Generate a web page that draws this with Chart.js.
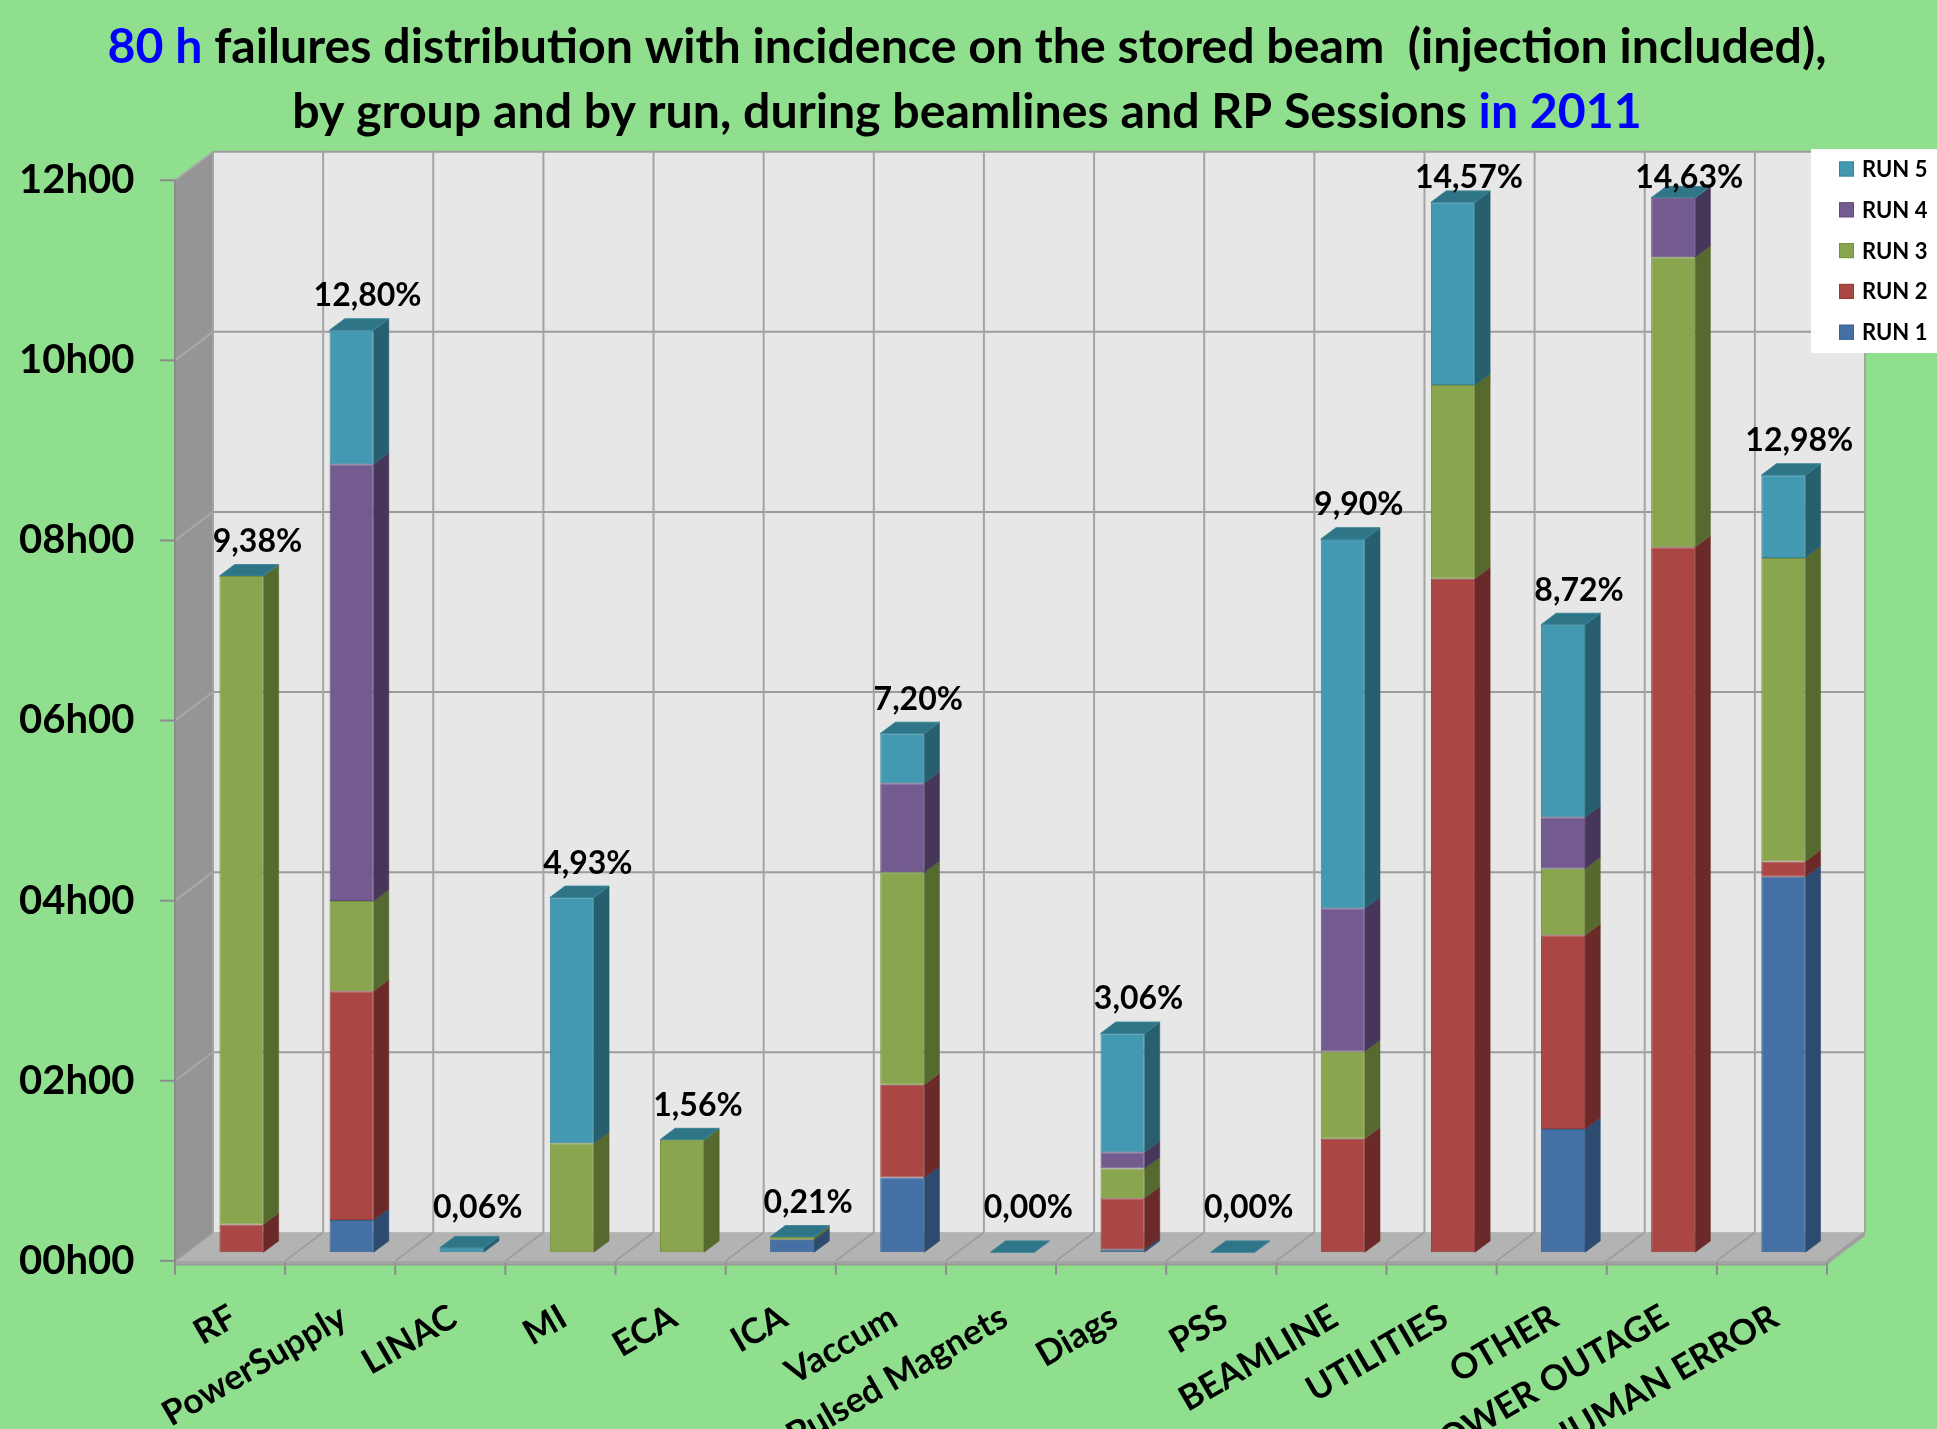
<!DOCTYPE html>
<html>
<head>
<meta charset="utf-8">
<script src="https://cdn.jsdelivr.net/npm/chart.js@4.4.1/dist/chart.umd.min.js"></script>
<style>
  html, body { margin: 0; padding: 0; background: #8fdf8f; overflow: hidden; }
  canvas { display: block; }
</style>
</head>
<body>
<canvas id="chart" width="1937" height="1429" style="width:1937px;height:1429px"></canvas>
<script>
// ---- data (hours of beam lost per group, split by run) ----
const categories = ['RF', 'PowerSupply', 'LINAC', 'MI', 'ECA', 'ICA', 'Vaccum', 'Pulsed Magnets',
                    'Diags', 'PSS', 'BEAMLINE', 'UTILITIES', 'OTHER', 'POWER OUTAGE', 'HUMAN ERROR'];
const run1 = [0,    0.36, 0,    0,    0,    0.14, 0.83, 0, 0.03, 0, 0,    0,    1.37, 0,    4.17];
const run2 = [0.31, 2.54, 0,    0,    0,    0,    1.03, 0, 0.57, 0, 1.26, 7.48, 2.15, 7.83, 0.17];
const run3 = [7.20, 1.00, 0,    1.21, 1.25, 0.03, 2.36, 0, 0.33, 0, 0.97, 2.15, 0.74, 3.22, 3.37];
const run4 = [0,    4.85, 0,    0,    0,    0,    0.99, 0, 0.18, 0, 1.59, 0,    0.57, 0.66, 0];
const run5 = [0,    1.49, 0.05, 2.73, 0,    0,    0.55, 0, 1.32, 0, 4.10, 2.03, 2.14, 0,    0.92];
const seriesNames = ['RUN 1', 'RUN 2', 'RUN 3', 'RUN 4', 'RUN 5'];
const shareLabels = ['9,38%', '12,80%', '0,06%', '4,93%', '1,56%', '0,21%', '7,20%', '0,00%',
                     '3,06%', '0,00%', '9,90%', '14,57%', '8,72%', '14,63%', '12,98%'];
const yTickLabels = ['00h00', '02h00', '04h00', '06h00', '08h00', '10h00', '12h00'];
const titleLine1 = [['80 h', '#0000ff'], [' failures distribution with incidence on the stored beam  (injection included),', '#000000']];
const titleLine2 = [['by group and by run, during beamlines and RP Sessions ', '#000000'], ['in 2011', '#0000ff']];

// ---- styling ----
const runs = [run1, run2, run3, run4, run5];
const frontColors = ['#4470a6', '#aa4644', '#89a54e', '#735a8f', '#4299b1'];
const edgeColors  = ['#3a6190', '#923b39', '#768e42', '#624c7b', '#378599'];
const sideColors  = ['#2c4b6f', '#6b2a29', '#56692f', '#46375a', '#275f6e'];
const capColor = '#2f7588';
const FONT = 'Lato, "DejaVu Sans", sans-serif';
const BG = '#8fdf8f';

// depth of the floor (vector from the front edge to the back wall) and the
// slice of that depth the columns occupy
const DEPTH_X = 38, DEPTH_Y = -28.5;
const BAR_FRONT = 0.3, BAR_BACK = 0.7;
const shift = d => ({ x: (d - BAR_FRONT) * DEPTH_X, y: (d - BAR_FRONT) * DEPTH_Y });

function poly(ctx, pts, fill, stroke, lw) {
  ctx.beginPath();
  ctx.moveTo(pts[0][0], pts[0][1]);
  for (let i = 1; i < pts.length; i++) ctx.lineTo(pts[i][0], pts[i][1]);
  ctx.closePath();
  if (fill) { ctx.fillStyle = fill; ctx.fill(); }
  if (stroke) { ctx.strokeStyle = stroke; ctx.lineWidth = lw || 1; ctx.stroke(); }
}
function seg(ctx, x1, y1, x2, y2, color, lw) {
  ctx.beginPath(); ctx.moveTo(x1, y1); ctx.lineTo(x2, y2);
  ctx.strokeStyle = color; ctx.lineWidth = lw; ctx.stroke();
}
const totals = categories.map((_, i) => runs.reduce((s, r) => s + r[i], 0));

const scene3d = {
  id: 'scene3d',
  beforeDraw(chart) {
    const { ctx, chartArea: a, scales: { x: xs, y: ys } } = chart;
    ctx.save();
    ctx.fillStyle = BG;
    ctx.fillRect(0, 0, chart.width, chart.height);
    const f = shift(0), b = shift(1);
    const y0 = ys.getPixelForValue(0), yTop = ys.getPixelForValue(12);
    // back wall
    ctx.fillStyle = '#e7e7e7';
    ctx.fillRect(a.left + b.x, yTop + b.y, a.right - a.left, y0 - yTop);
    // left side wall
    poly(ctx, [[a.left + f.x, yTop + f.y], [a.left + b.x, yTop + b.y], [a.left + b.x, y0 + b.y], [a.left + f.x, y0 + f.y]], '#959595');
    // floor slab
    poly(ctx, [[a.left + f.x, y0 + f.y], [a.right + f.x, y0 + f.y], [a.right + f.x, y0 + f.y + 4], [a.left + f.x, y0 + f.y + 4]], '#a3a3a3');
    poly(ctx, [[a.right + f.x, y0 + f.y], [a.right + b.x, y0 + b.y], [a.right + b.x, y0 + b.y + 4], [a.right + f.x, y0 + f.y + 4]], '#a3a3a3');
    poly(ctx, [[a.left + f.x, y0 + f.y], [a.left + b.x, y0 + b.y], [a.right + b.x, y0 + b.y], [a.right + f.x, y0 + f.y]], '#b3b3b3');
    // value gridlines on back and side walls, with axis ticks
    ys.ticks.forEach(t => {
      const py = ys.getPixelForValue(t.value);
      if (t.value > 0) {
        seg(ctx, a.left + b.x, py + b.y, a.right + b.x, py + b.y, '#9c9c9c', 2);
        seg(ctx, a.left + f.x, py + f.y, a.left + b.x, py + b.y, '#a9a9a9', 2);
      }
      seg(ctx, a.left + f.x - 15, py + f.y, a.left + f.x, py + f.y, '#8c8c8c', 2);
    });
    // category dividers on back wall and floor, with axis ticks
    const cw = xs.getPixelForValue(1) - xs.getPixelForValue(0);
    const x0 = xs.getPixelForValue(0) - cw / 2;
    for (let k = 0; k <= categories.length; k++) {
      const bx = x0 + k * cw;
      seg(ctx, bx + b.x, yTop + b.y, bx + b.x, y0 + b.y, '#a4a4a4', 2);
      seg(ctx, bx + f.x, y0 + f.y, bx + b.x, y0 + b.y, '#9a9a9a', 1.5);
      seg(ctx, bx + f.x, y0 + f.y + 2, bx + f.x, y0 + f.y + 14, '#8c8c8c', 2);
    }
    // outer edges
    seg(ctx, a.left + f.x, yTop + f.y, a.left + f.x, y0 + f.y + 4, '#8c8c8c', 2);
    seg(ctx, a.left + f.x, y0 + f.y + 4, a.right + f.x, y0 + f.y + 4, '#9a9a9a', 1.5);
    ctx.restore();
  },
  beforeDatasetsDraw(chart) {
    const { ctx, scales: { y: ys } } = chart;
    const metas = chart.data.datasets.map((_, di) => chart.getDatasetMeta(di));
    const sx = (BAR_BACK - BAR_FRONT) * DEPTH_X, sy = (BAR_BACK - BAR_FRONT) * DEPTH_Y;
    ctx.save();
    categories.forEach((_, i) => {
      const ref = metas[0].data[i].getProps(['x', 'width'], true);
      const left = ref.x - ref.width / 2, right = ref.x + ref.width / 2;
      metas.forEach((m, di) => {
        const el = m.data[i].getProps(['y', 'base'], true);
        const top = Math.min(el.y, el.base), bot = Math.max(el.y, el.base);
        if (bot - top < 0.5) return;
        poly(ctx, [[right, bot], [right, top], [right + sx, top + sy], [right + sx, bot + sy]], sideColors[di], sideColors[di], 0.5);
      });
      const yt = ys.getPixelForValue(totals[i]);
      poly(ctx, [[left, yt], [right, yt], [right + sx, yt + sy], [left + sx, yt + sy]], capColor, '#3d8497', 1);
    });
    ctx.restore();
  },
  afterDatasetsDraw(chart) {
    const { ctx, scales: { y: ys } } = chart;
    const meta = chart.getDatasetMeta(0);
    const y0 = ys.getPixelForValue(0);
    ctx.save();
    ctx.font = 'bold 32px ' + FONT;
    ctx.fillStyle = '#000';
    ctx.textAlign = 'center';
    ctx.textBaseline = 'alphabetic';
    categories.forEach((_, i) => {
      const el = meta.data[i].getProps(['x'], true);
      const yt = ys.getPixelForValue(totals[i]);
      let by = Math.max(yt - 24, 188);
      by = Math.min(by, y0 - 34);
      ctx.fillText(shareLabels[i], el.x + 16, by);
    });
    ctx.restore();
  },
  afterDraw(chart) {
    const { ctx } = chart;
    ctx.save();
    // title, two centred lines with coloured runs of text
    ctx.textBaseline = 'alphabetic';
    ctx.textAlign = 'left';
    ctx.font = 'bold 100px ' + FONT;
    const w1 = titleLine1.reduce((s, p) => s + ctx.measureText(p[0]).width, 0);
    const size = 100 * 1719 / w1;
    ctx.font = 'bold ' + size.toFixed(2) + 'px ' + FONT;
    [[titleLine1, 63], [titleLine2, 128]].forEach(([parts, by]) => {
      const w = parts.reduce((s, p) => s + ctx.measureText(p[0]).width, 0);
      let x = 967 - w / 2;
      parts.forEach(([txt, col]) => {
        ctx.fillStyle = col;
        ctx.fillText(txt, x, by);
        x += ctx.measureText(txt).width;
      });
    });
    // legend (last run on top)
    ctx.fillStyle = '#ffffff';
    ctx.fillRect(1811, 149, 126, 204);
    ctx.font = 'bold 22px ' + FONT;
    ctx.textBaseline = 'middle';
    for (let k = 0; k < seriesNames.length; k++) {
      const di = seriesNames.length - 1 - k;
      const cy = 169 + k * 40.8;
      ctx.fillStyle = frontColors[di];
      ctx.fillRect(1839, cy - 7.5, 15, 15);
      ctx.strokeStyle = edgeColors[di];
      ctx.lineWidth = 1;
      ctx.strokeRect(1839.5, cy - 7, 14, 14);
      ctx.fillStyle = '#000';
      ctx.fillText(seriesNames[di], 1862, cy + 1);
    }
    ctx.restore();
  }
};

new Chart(document.getElementById('chart'), {
  type: 'bar',
  data: {
    labels: categories,
    datasets: runs.map((d, i) => ({
      label: seriesNames[i],
      data: d,
      backgroundColor: frontColors[i],
      borderColor: edgeColors[i],
      borderWidth: 1,
      borderSkipped: false,
      categoryPercentage: 1,
      barPercentage: 0.4
    }))
  },
  options: {
    responsive: false,
    animation: false,
    devicePixelRatio: 1,
    layout: { padding: { left: 0, top: 171.7, right: 98.6, bottom: 0 } },
    plugins: { legend: { display: false }, title: { display: false }, tooltip: { enabled: false } },
    scales: {
      x: {
        stacked: true,
        grid: { display: false, drawTicks: false },
        border: { display: false },
        ticks: {
          autoSkip: false, minRotation: 30, maxRotation: 30, padding: 44, labelOffset: -8,
          color: '#000', font: { family: FONT, size: 35, weight: 'bold' }
        },
        afterFit: s => { s.height = 176.7; }
      },
      y: {
        stacked: true, min: 0, max: 12,
        grid: { display: false, drawTicks: false },
        border: { display: false },
        ticks: {
          stepSize: 2, padding: 52, labelOffset: 8.55,
          color: '#000', font: { family: FONT, size: 40, weight: 'bold' },
          callback: v => yTickLabels[Math.round(v / 2)]
        },
        afterFit: s => { s.width = 186.4; }
      }
    }
  },
  plugins: [scene3d]
});
</script>
</body>
</html>
